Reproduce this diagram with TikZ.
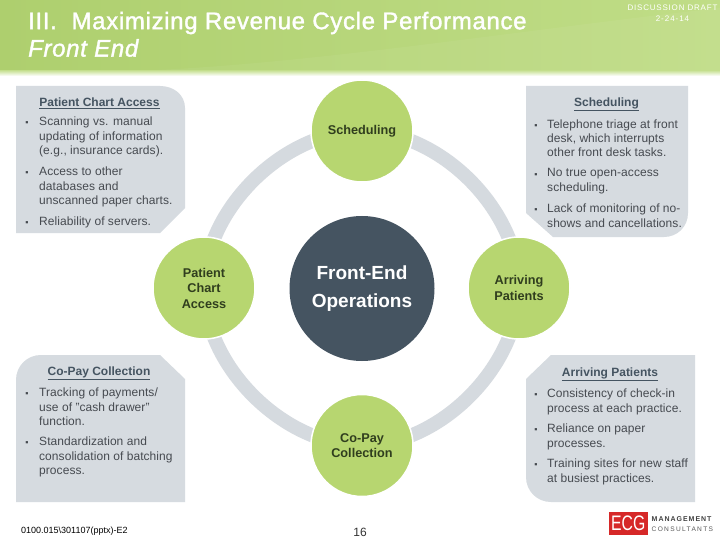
\documentclass[tikz,border=0pt]{standalone}
\usepackage{fontspec}
\setmainfont{Liberation Sans}
\usetikzlibrary{backgrounds}
\newfontfamily\titlefont[LetterSpace=2.8,FakeBold=1.5]{Liberation Sans}
\definecolor{cHeadL}{RGB}{174,207,110}
\definecolor{cHeadR}{RGB}{192,221,135}
\definecolor{cBox}{RGB}{214,219,224}
\definecolor{cRing}{RGB}{213,218,223}
\definecolor{cHub}{RGB}{69,84,97}
\definecolor{cLeaf}{RGB}{183,214,112}
\definecolor{cLeafTxt}{RGB}{48,62,30}
\definecolor{cTxt}{RGB}{70,74,80}
\definecolor{cHead}{RGB}{69,84,97}
\definecolor{cLogo}{RGB}{214,40,40}
\tikzset{
  leaf/.style={circle,fill=cLeaf,draw=white,line width=1.5pt,minimum size=102pt,inner sep=0pt,align=center,text=cLeafTxt,font=\fontsize{12.7}{15.5}\selectfont\bfseries},
  hub/.style={circle,fill=cHub,minimum size=145pt,inner sep=0pt,align=center,text=white,font=\fontsize{19}{28}\selectfont\bfseries},
  ringarc/.style={cRing,line width=14pt,looseness=0.9},
  panel/.style={fill=cBox},
  bodytxt/.style={anchor=north west,inner sep=0pt,align=left,text=cTxt,font=\fontsize{12}{14.3}\addfontfeature{LetterSpace=0.5}\selectfont},
  dot/.style={inner sep=0pt,text=cTxt,font=\fontsize{9}{9}\selectfont},
  headtxt/.style={inner sep=0pt,text=cHead,font=\fontsize{12}{14}\bfseries\selectfont}
}
\begin{document}
\begin{tikzpicture}[x=1pt,y=-1pt]
\useasboundingbox (0,0) rectangle (720,540);
\shade[left color=cHeadL,right color=cHeadR] (0,0) rectangle (720,71);
\fill[white,opacity=0.05] (130,71) .. controls (300,66) and (520,30) .. (720,8) -- (720,71) -- cycle;
\shade[top color=cHeadR!80!white,bottom color=white] (0,71) rectangle (720,76);
\node[anchor=west,inner sep=0pt,text=white,font=\titlefont\fontsize{24}{25}\selectfont] (title1) at (28,23) {III.\ \ Maximizing Revenue Cycle Performance};
\node[anchor=west,inner sep=0pt,text=white,font=\titlefont\fontsize{24}{25}\itshape\selectfont] (title2) at (28,48) {Front End};
\node[inner sep=0pt,text=white,font=\fontsize{8}{10}\addfontfeature{LetterSpace=10}\selectfont] (draft) at (672.5,8) {DISCUSSION DRAFT};
\node[inner sep=0pt,text=white,font=\fontsize{8}{10}\addfontfeature{LetterSpace=12}\selectfont] (date) at (672.5,18.5) {2-24-14};

\fill[panel] (16,86) -- (160,86) .. controls (174,86) and (185,95) .. (185,108) -- (185,208) -- (160,233) -- (16,233) -- cycle;
\fill[panel] (526,86) -- (688,86) -- (688,213) .. controls (688,227) and (677,237) .. (664,237) -- (553,237) -- (526,213) -- cycle;
\fill[panel] (41,355) -- (160,355) -- (185,379) -- (185,502) -- (16,502) -- (16,380) .. controls (16,366) and (27,355) .. (41,355) -- cycle;
\fill[panel] (551,355) -- (695,355) -- (695,502) -- (551,502) .. controls (537,502) and (526,491) .. (526,477) -- (526,379) -- cycle;

\node[hub] (hub) at (362,288.5) {Front-End\\Operations};
\node[leaf] (sched) at (362,131) {Scheduling};
\node[leaf] (chart) at (204,288) {Patient\\Chart\\Access};
\node[leaf] (arrive) at (519,288) {Arriving\\Patients};
\node[leaf] (copay) at (362,445.5) {Co-Pay\\Collection};
\begin{scope}[on background layer]
\fill[white] (0,0) rectangle (720,540);
\draw[ringarc] (sched.center) to[out=0,in=90] (arrive.center);
\draw[ringarc] (arrive.center) to[out=-90,in=0] (copay.center);
\draw[ringarc] (copay.center) to[out=180,in=-90] (chart.center);
\draw[ringarc] (chart.center) to[out=90,in=180] (sched.center);
\end{scope}

\node[headtxt] (chartHead) at (99.5,103) {\underline{Patient Chart Access}};
\node[dot] at (27,124) {▪};
\node[bodytxt] at (39,117) {Scanning vs. manual\\updating of information\\(e.g., insurance cards).};
\node[dot] at (27,174) {▪};
\node[bodytxt] at (39,167) {Access to other\\databases and\\unscanned paper charts.};
\node[dot] at (27,223.5) {▪};
\node[bodytxt] at (39,216.5) {Reliability of servers.};

\node[headtxt] (schedHead) at (606.5,104.5) {\underline{Scheduling}};
\node[dot] at (536,126.5) {▪};
\node[bodytxt] at (547,119.5) {Telephone triage at front\\desk, which interrupts\\other front desk tasks.};
\node[dot] at (536,175.5) {▪};
\node[bodytxt] at (547,168.5) {No true open-access\\scheduling.};
\node[dot] at (536,211) {▪};
\node[bodytxt] at (547,204) {Lack of monitoring of no-\\shows and cancellations.};

\node[headtxt] (copayHead) at (99,373.5) {\underline{Co-Pay Collection}};
\node[dot] at (27,395) {▪};
\node[bodytxt] at (39,388) {Tracking of payments/\\use of "cash drawer"\\function.};
\node[dot] at (27,444) {▪};
\node[bodytxt] at (39,437) {Standardization and\\consolidation of batching\\process.};

\node[headtxt] (arriveHead) at (610,374.5) {\underline{Arriving Patients}};
\node[dot] at (536,396) {▪};
\node[bodytxt] at (547,389) {Consistency of check-in\\process at each practice.};
\node[dot] at (536,431) {▪};
\node[bodytxt] at (547,424) {Reliance on paper\\processes.};
\node[dot] at (536,466) {▪};
\node[bodytxt] at (547,459) {Training sites for new staff\\at busiest practices.};

\node[anchor=west,inner sep=0pt,text=black,font=\fontsize{9}{10}\selectfont] (code) at (21,531) {0100.015\textbackslash 301107(pptx)-E2};
\node[inner sep=0pt,text=black!80,font=\fontsize{12}{14}\selectfont] (page) at (360,532) {16};
\fill[cLogo] (609,512) rectangle (647.5,535);
\node[inner sep=0pt,text=white,font=\fontsize{21}{22}\addfontfeature{FakeStretch=0.75}\selectfont] (logoE) at (628.2,523.5) {ECG};
\node[anchor=west,inner sep=0pt,text=black!75,font=\fontsize{7}{8}\bfseries\addfontfeature{LetterSpace=14}\selectfont] (logoM) at (651.5,519) {MANAGEMENT};
\node[anchor=west,inner sep=0pt,text=black!65,font=\fontsize{6.6}{8}\addfontfeature{LetterSpace=20}\selectfont] (logoC) at (651.5,529) {CONSULTANTS};
\end{tikzpicture}
\end{document}
